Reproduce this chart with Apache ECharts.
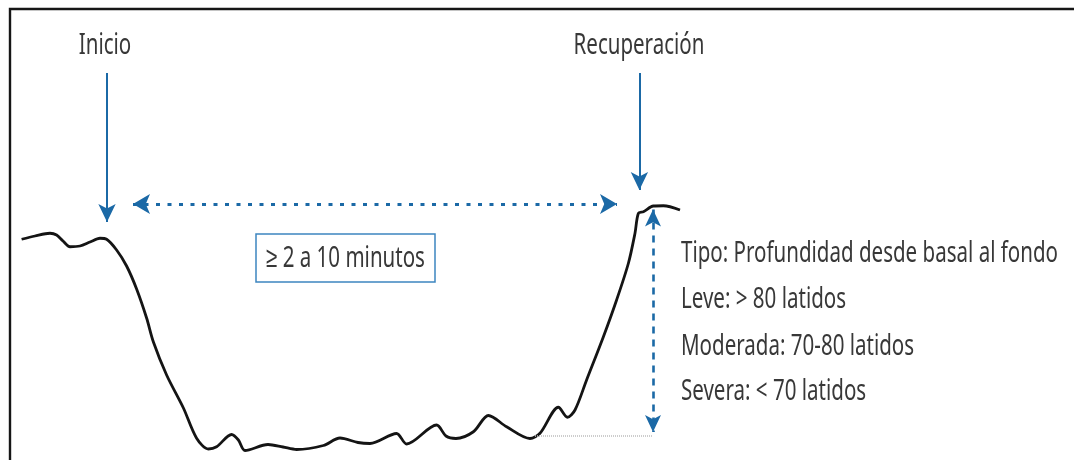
<!DOCTYPE html>
<html>
<head>
<meta charset="utf-8">
<script src="https://cdn.jsdelivr.net/npm/echarts@6/dist/echarts.min.js"></script>
<style>
html,body{margin:0;padding:0;background:#fff;}
#chart{width:1074px;height:460px;}
</style>
</head>
<body>
<div id="chart"></div>
<script>
// Time (s) of each sample of the fetal heart rate trace
const timeSec = [10.8,17.5,25,28.3,31.5,35,40,45,50,53.3,58.3,63.3,68.3,73.3,76.7,83.3,91.7,98.3,104.2,108.3,115.8,119.2,122.5,134,141.5,148.3,161.7,170,179,185,198.3,203.3,218.3,223,228,236.7,244.2,253.3,265,270,279.2,283.7,287.5,293.3,301.7,308.3,314.2,317.5,319.2,321.7,326.7,331.7,340];
// Heart rate (bpm) at each sample
const heartRate = [148.3,149.6,150.7,150,147.6,145.3,145.6,147.2,148.7,148.3,144,137.6,128.4,116.8,107.2,94,80.8,68.7,64.4,65.3,70.2,68,63.8,66.2,65.2,64.2,65.8,68.8,67,66.6,70.6,66.4,74,69.6,68.6,71.3,77.8,73.3,68.6,70.7,81.1,77.1,80,92,109.3,124,138.7,150.7,158.7,159.3,161.6,161.7,160];

// Annotation values
const onsetTime = 53.5;        // Inicio
const recoveryTime = 319.7;    // Recuperación
const durationLevel = 162.4;   // level of duration arrow
const durationStart = 66.5, durationEnd = 308.5;
const depthTime = 326.5, depthTop = 160.2, depthBottom = 71.2;
const nadirLevel = 69.6, nadirStart = 267.5;
const labelLevel = 214.8, onsetTip = 155.2, recoveryTip = 168;

const labelOnset = 'Inicio';
const labelRecovery = 'Recuperación';
const labelDuration = '≥ 2 a 10 minutos';
const legendLines = [
  'Tipo: Profundidad desde basal al fondo',
  'Leve: > 80 latidos',
  'Moderada: 70-80 latidos',
  'Severa: < 70 latidos'
];

const BLUE = '#1b69a6';
const TEXT = '#383838';
const FONT = '29px "Noto Sans", sans-serif';

// condensed look: measure the long legend line and squeeze to the reference width
const ctx = document.createElement('canvas').getContext('2d');
ctx.font = FONT;
const SX = 377 / ctx.measureText(legendLines[0]).width;

const chart = echarts.init(document.getElementById('chart'));

const seriesData = timeSec.map((t, i) => [t, heartRate[i]]);

const solidArrow = (x1, y1, x2, y2) => [
  {coord: [x1, y1], symbol: 'none', lineStyle: {color: BLUE, width: 2, type: 'solid'}},
  {coord: [x2, y2], symbol: 'arrow', symbolSize: [13, 18]}
];

const txt = (text, x, y, align) => ({
  type: 'text', x: x, y: y, scaleX: SX, silent: true,
  style: {text: text, font: FONT, fill: TEXT, align: align, verticalAlign: 'middle'}
});

const legendGraphics = legendLines.map((t, i) => txt(t, 681, [254, 300, 347, 392][i], 'left'));

chart.setOption({
  animation: false,
  backgroundColor: '#fff',
  grid: {left: 0, right: 0, top: 0, bottom: 0},
  xAxis: {type: 'value', min: 0, max: 537, show: false},
  yAxis: {type: 'value', min: 60, max: 244, show: false},
  series: [{
    type: 'line',
    data: seriesData,
    symbol: 'none',
    smooth: 0.3,
    silent: true,
    lineStyle: {color: '#141414', width: 2.8},
    markLine: {
      silent: true,
      animation: false,
      label: {show: false},
      emphasis: {disabled: true},
      data: [
        solidArrow(onsetTime, labelLevel, onsetTime, onsetTip),
        solidArrow(recoveryTime, labelLevel, recoveryTime, recoveryTip),
        [
          {coord: [durationStart, durationLevel], symbol: 'arrow', symbolSize: [15, 17],
           lineStyle: {color: BLUE, width: 3.2, type: [4, 7.5]}},
          {coord: [durationEnd, durationLevel], symbol: 'arrow', symbolSize: [15, 17]}
        ],
        [
          {coord: [depthTime, depthTop], symbol: 'arrow', symbolSize: [12, 17],
           lineStyle: {color: BLUE, width: 2.6, type: [7, 6]}},
          {coord: [depthTime, depthBottom], symbol: 'arrow', symbolSize: [12, 17]}
        ],
        [
          {coord: [nadirStart, nadirLevel], symbol: 'none',
           lineStyle: {color: '#bdbdbd', width: 1.5, type: [1, 1]}},
          {coord: [depthTime, nadirLevel], symbol: 'none'}
        ]
      ]
    }
  }],
  graphic: [
    {type: 'rect', shape: {x: 10, y: 9, width: 1200, height: 600},
     style: {fill: 'none', stroke: '#161616', lineWidth: 2.4}, silent: true},
    txt(labelOnset, 105, 46, 'center'),
    txt(labelRecovery, 639, 46, 'center'),
    {type: 'rect', shape: {x: 256, y: 234, width: 179, height: 48}, silent: true,
     style: {fill: '#fff', stroke: '#3d85c0', lineWidth: 1.5}},
    txt(labelDuration, 345.5, 259, 'center')
  ].concat(legendGraphics)
});
</script>
</body>
</html>
